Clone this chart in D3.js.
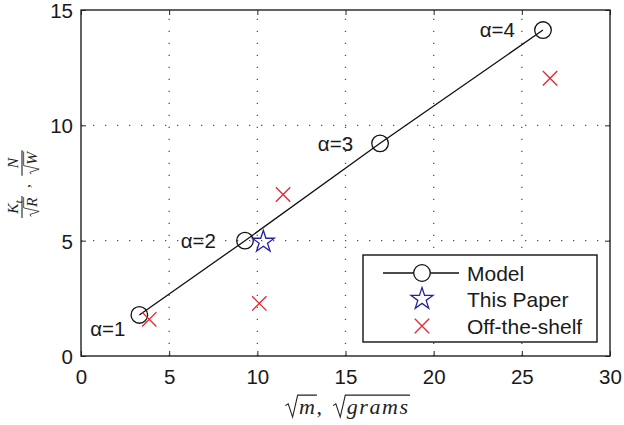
<!DOCTYPE html>
<html><head><meta charset="utf-8">
<script src="https://cdn.jsdelivr.net/npm/d3@7"></script>
<style>body{margin:0;background:#fff}</style>
</head><body><svg id="c" width="624" height="425"></svg>
<script>
// ---- data ----
const xTicks = [0, 5, 10, 15, 20, 25, 30];
const yTicks = [0, 5, 10, 15];
const modelX = [3.31, 9.30, 16.96, 26.2];
const modelY = [1.78, 5.0, 9.22, 14.13];
const alphaLabels = ["α=1", "α=2", "α=3", "α=4"];
const paperX = [10.34];
const paperY = [4.95];
const shelfX = [3.87, 10.11, 11.46, 26.6];
const shelfY = [1.59, 2.28, 7.0, 12.04];
const legendLabels = ["Model", "This Paper", "Off-the-shelf"];

// ---- layout ----
const W = 624, H = 425;
const m = {l: 81, r: 14, t: 10, b: 69};
const svg = d3.select("#c");
const x = d3.scaleLinear().domain([0, 30]).range([m.l, W - m.r]);
const y = d3.scaleLinear().domain([0, 15]).range([H - m.b, m.t]);
const font = "'Liberation Sans', Arial, sans-serif";
const serif = "'Liberation Serif', 'Times New Roman', serif";
const blue = "#24249a", red = "#e8242c";

// grid
const grid = svg.append("g").attr("stroke", "#555").attr("stroke-width", 1.3)
  .attr("stroke-dasharray", "1.3,10.7");
grid.selectAll(".gx").data(xTicks.slice(1, -1)).join("line")
  .attr("x1", d => x(d)).attr("x2", d => x(d)).attr("y1", y(0)).attr("y2", y(15));
grid.selectAll(".gy").data(yTicks.slice(1, -1)).join("line")
  .attr("y1", d => y(d)).attr("y2", d => y(d)).attr("x1", x(0)).attr("x2", x(30));

// axes (MATLAB style, ticks inward on all sides)
const tl = 5;
const axB = svg.append("g").attr("transform", `translate(0,${y(0)})`)
  .call(d3.axisBottom(x).tickValues(xTicks).tickSizeInner(-tl).tickSizeOuter(0).tickPadding(13));
const axT = svg.append("g").attr("transform", `translate(0,${y(15)})`)
  .call(d3.axisTop(x).tickValues(xTicks).tickSizeInner(-tl).tickSizeOuter(0).tickFormat(""));
const axL = svg.append("g").attr("transform", `translate(${x(0)},0)`)
  .call(d3.axisLeft(y).tickValues(yTicks).tickSizeInner(-tl).tickSizeOuter(0).tickPadding(8));
const axR = svg.append("g").attr("transform", `translate(${x(30)},0)`)
  .call(d3.axisRight(y).tickValues(yTicks).tickSizeInner(-tl).tickSizeOuter(0).tickFormat(""));
[axB, axT, axL, axR].forEach(a => {
  a.select(".domain").remove();
  a.selectAll("line").attr("stroke", "#222");
  a.selectAll("text").attr("font-family", font).attr("font-size", 20.5).attr("fill", "#1a1a1a");
});
axL.selectAll("text").attr("dy", "0.36em");
svg.append("rect").attr("x", x(0)).attr("y", y(15)).attr("width", x(30) - x(0))
  .attr("height", y(0) - y(15)).attr("fill", "none").attr("stroke", "#222").attr("stroke-width", 1.4);

// model line + circles
const model = modelX.map((d, i) => ({x: d, y: modelY[i]}));
svg.append("path").datum(model)
  .attr("d", d3.line().x(d => x(d.x)).y(d => y(d.y)))
  .attr("fill", "none").attr("stroke", "#111").attr("stroke-width", 1.3);
svg.selectAll(".mc").data(model).join("circle")
  .attr("cx", d => x(d.x)).attr("cy", d => y(d.y)).attr("r", 8.3)
  .attr("fill", "none").attr("stroke", "#111").attr("stroke-width", 1.3);

// alpha labels
const labOff = [[-14, 21], [-29, 7], [-27, 8], [-28, 7]];
svg.selectAll(".al").data(model).join("text")
  .attr("x", (d, i) => x(d.x) + labOff[i][0]).attr("y", (d, i) => y(d.y) + labOff[i][1])
  .attr("text-anchor", "end").attr("font-family", font).attr("font-size", 20.5).attr("fill", "#1a1a1a")
  .text((d, i) => alphaLabels[i]);

// marker paths
function starPath(cx, cy, R) {
  const r = R * 0.382, pts = [];
  for (let k = 0; k < 10; k++) {
    const a = -Math.PI / 2 + k * Math.PI / 5, rr = k % 2 ? r : R;
    pts.push([cx + rr * Math.cos(a), cy + rr * Math.sin(a)]);
  }
  return "M" + pts.map(p => p.join(",")).join("L") + "Z";
}
function crossPath(cx, cy, s) {
  return `M${cx - s},${cy - s}L${cx + s},${cy + s}M${cx - s},${cy + s}L${cx + s},${cy - s}`;
}
svg.selectAll(".st").data(paperX.map((d, i) => ({x: d, y: paperY[i]}))).join("path")
  .attr("d", d => starPath(x(d.x), y(d.y), 11.5))
  .attr("fill", "none").attr("stroke", blue).attr("stroke-width", 1.3);
svg.selectAll(".cr").data(shelfX.map((d, i) => ({x: d, y: shelfY[i]}))).join("path")
  .attr("d", d => crossPath(x(d.x), y(d.y), 7.2))
  .attr("fill", "none").attr("stroke", red).attr("stroke-width", 1.3);

// legend
const lg = svg.append("g");
lg.append("rect").attr("x", 363).attr("y", 255).attr("width", 234).attr("height", 87)
  .attr("fill", "#fff").attr("stroke", "#111").attr("stroke-width", 1.4);
const ly = [273, 299, 326];
lg.append("line").attr("x1", 383).attr("x2", 459).attr("y1", ly[0]).attr("y2", ly[0])
  .attr("stroke", "#111").attr("stroke-width", 1.3);
lg.append("circle").attr("cx", 422).attr("cy", ly[0]).attr("r", 8.3)
  .attr("fill", "#fff").attr("stroke", "#111").attr("stroke-width", 1.3);
lg.append("path").attr("d", starPath(422, ly[1], 11.5)).attr("fill", "none").attr("stroke", blue).attr("stroke-width", 1.3);
lg.append("path").attr("d", crossPath(422, ly[2], 7.2)).attr("fill", "none").attr("stroke", red).attr("stroke-width", 1.3);
lg.selectAll(".lt").data(legendLabels).join("text")
  .attr("x", 467).attr("y", (d, i) => ly[i]).attr("dy", "0.36em")
  .attr("font-family", font).attr("font-size", 21).attr("fill", "#1a1a1a").text(d => d);

// ---- math helpers ----
function addText(g, cx, base, s, p, ls) {
  return g.append("text").attr("x", cx).attr("y", base + (p.sub ? 0.25 * s : 0))
    .attr("font-family", serif).attr("font-style", p.it ? "italic" : "normal")
    .attr("letter-spacing", ls || 0)
    .attr("font-size", p.sub ? s * 0.7 : s).attr("fill", "#222").text(p.t);
}
function radical(g, x0, base, s, parts, ls) {
  let cx = x0 + 0.62 * s;
  parts.forEach(p => { cx += addText(g, cx, base, s, p, ls).node().getComputedTextLength(); });
  const top = base - 0.86 * s;
  g.append("path")
    .attr("d", `M${x0},${base - 0.38 * s}L${x0 + 0.13 * s},${base - 0.46 * s}L${x0 + 0.33 * s},${base + 0.14 * s}L${x0 + 0.56 * s},${top}L${cx + 0.02 * s},${top}`)
    .attr("fill", "none").attr("stroke", "#222").attr("stroke-width", Math.max(0.8, s / 20));
  return cx - x0;
}
function rowWidth(g, parts, s, ls) {
  let w = 0;
  parts.forEach(p => { const t = addText(g, 0, 0, s, p, ls); w += t.node().getComputedTextLength(); t.remove(); });
  return w;
}
function plain(g, x0, base, s, parts, ls) {
  let cx = x0;
  parts.forEach(p => { cx += addText(g, cx, base, s, p, ls).node().getComputedTextLength(); });
  return cx - x0;
}

// x label: √m, √grams
{
  const s = 22, ls = 1.6, g = svg.append("g");
  const p1 = [{t: "m", it: true}], p2 = [{t: "grams", it: true}], pc = [{t: ",\u2002"}];
  const total = 0.62 * s * 2 + rowWidth(g, p1, s, ls) + rowWidth(g, pc, s) + rowWidth(g, p2, s, ls);
  let cx = (x(0) + x(30)) / 2 - total / 2 + 2;
  const base = 414;
  cx += radical(g, cx, base, s, p1, ls);
  cx += plain(g, cx, base, s, pc);
  radical(g, cx, base, s, p2, ls);
}

// y label: K_t/√R, N/√W  (rotated)
{
  const s = 15.5;
  const g = svg.append("g").attr("transform", "translate(22,185) rotate(-90)");
  function frac(cxL, numParts, denParts) {
    const wn = rowWidth(g, numParts, s);
    const wd = 0.62 * s + rowWidth(g, denParts, s);
    const w = Math.max(wn, wd) + 3;
    plain(g, cxL - wn / 2, -4, s, numParts);
    radical(g, cxL - wd / 2, 15, s, denParts);
    g.append("line").attr("x1", cxL - w / 2).attr("x2", cxL + w / 2).attr("y1", 0).attr("y2", 0)
      .attr("stroke", "#222").attr("stroke-width", 1.1);
  }
  frac(-22, [{t: "K", it: true}, {t: "t", it: true, sub: true}], [{t: "R", it: true}]);
  plain(g, -3, 8, s, [{t: ","}]);
  frac(22, [{t: "N", it: true}], [{t: "W", it: true}]);
}
</script>
</body></html>
